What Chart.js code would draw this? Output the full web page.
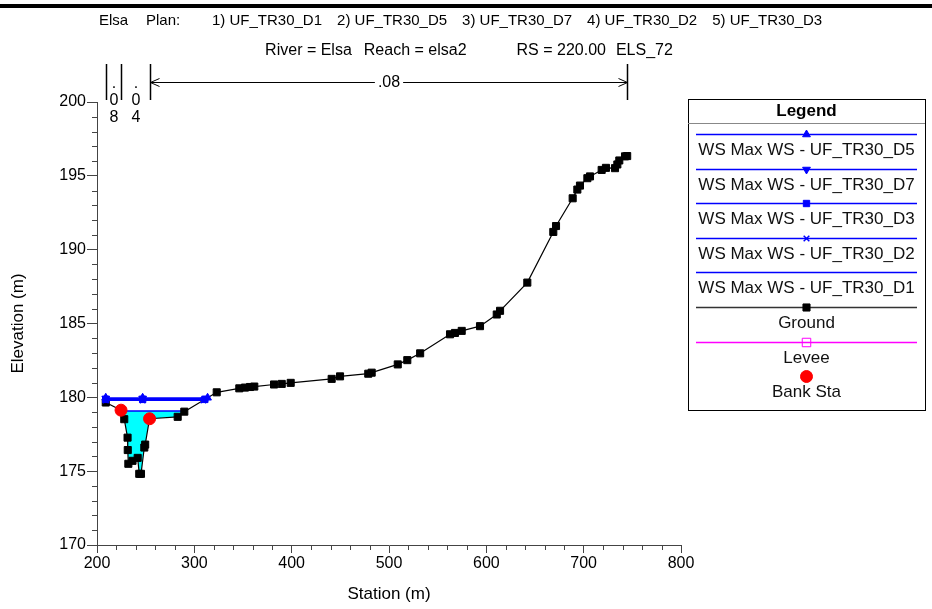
<!DOCTYPE html>
<html>
<head>
<meta charset="utf-8">
<script src="https://cdn.jsdelivr.net/npm/chart.js@4.4.1/dist/chart.umd.min.js"></script>
<style>
  html, body { margin: 0; padding: 0; background: #fff; }
  #wrap { position: relative; width: 932px; height: 609px; }
  #topRule { position: absolute; left: 0; top: 4px; width: 932px; height: 4px; background: #000; }
</style>
</head>
<body>
<div id="wrap">
  <canvas id="xsChart" width="932" height="609"></canvas>
  <div id="topRule"></div>
</div>
<script>
// header text
const riverName = 'Elsa';
const reachName = 'elsa2';
const rsValue = '220.00';
const rsName = 'ELS_72';
const planNames = ['1) UF_TR30_D1', '2) UF_TR30_D5', '3) UF_TR30_D7', '4) UF_TR30_D2', '5) UF_TR30_D3'];

// ground profile (station m, elevation m)
const groundSta = [209.0, 224.7, 228.0, 231.4, 231.6, 232.2, 236.5, 241.8, 243.4, 245.2, 248.6, 249.5, 254.0,
  282.9, 289.7, 323.0, 346.2, 352.0, 357.2, 361.6, 381.9, 389.8, 399.0, 441.1, 449.7, 478.7, 482.2,
  509.0, 518.8, 532.0, 562.7, 567.8, 574.7, 593.5, 610.7, 614.1, 642.1, 668.8, 671.6, 688.7, 693.5,
  696.2, 703.8, 706.5, 718.5, 722.9, 732.2, 734.6, 736.6, 742.5, 744.7];
const groundElev = [179.65, 179.13, 178.52, 177.27, 176.43, 175.50, 175.70, 175.90, 174.82, 174.82, 176.60, 176.80, 178.55,
  178.68, 179.03, 180.34, 180.61, 180.66, 180.70, 180.73, 180.87, 180.91, 180.98, 181.25, 181.42, 181.60, 181.67,
  182.23, 182.52, 182.98, 184.27, 184.36, 184.50, 184.82, 185.61, 185.86, 187.77, 191.20, 191.60, 193.48, 194.07,
  194.34, 194.84, 194.96, 195.40, 195.54, 195.52, 195.77, 196.04, 196.32, 196.34];

// bank stations
const bankSta = [224.7, 254.0];
const bankElev = [179.13, 178.55];

// manning n values between breakpoints
const nSta = [209.0, 224.7, 254.0, 744.7];
const nVal = ['.08', '.04', '.08'];

// max water surface per plan
const wsD5Sta = [209.0, 246.9, 313.6];
const wsD5Elev = [179.97, 179.97, 179.97];
const wsD7Sta = [209.0, 246.9, 312.3];
const wsD7Elev = [179.92, 179.92, 179.92];
const wsD3Sta = [209.0, 246.9, 310.8];
const wsD3Elev = [179.86, 179.86, 179.86];
const wsD2Sta = [209.0, 246.9, 309.3];
const wsD2Elev = [179.80, 179.80, 179.80];
const wsD1Sta = [225.0, 290.8];
const wsD1Elev = [179.07, 179.07];

// legend order
const legendLabels = ['WS Max WS - UF_TR30_D5', 'WS Max WS - UF_TR30_D7', 'WS Max WS - UF_TR30_D3',
  'WS Max WS - UF_TR30_D2', 'WS Max WS - UF_TR30_D1', 'Ground', 'Levee', 'Bank Sta'];

const FONT = '"Liberation Sans", Arial, sans-serif';
const BLUE = '#0000ff';
const pts = (xs, ys) => xs.map((x, i) => ({ x: x, y: ys[i] }));

Chart.defaults.font.family = FONT;
Chart.defaults.color = '#000';

const wsSet = (label, xs, ys, style, rot) => ({
  label: label,
  data: pts(xs, ys),
  borderColor: BLUE,
  backgroundColor: BLUE,
  borderWidth: 1.2,
  pointStyle: style,
  pointRotation: rot || 0,
  pointRadius: style === 'crossRot' ? 4 : 4.5,
  pointBorderWidth: style === 'crossRot' ? 1.5 : 1,
  pointBackgroundColor: BLUE,
  pointBorderColor: BLUE,
  fill: false
});

const headerPlugin = {
  id: 'header',
  afterDraw(chart) {
    const ctx = chart.ctx;
    ctx.save();
    ctx.fillStyle = '#000';
    ctx.textBaseline = 'middle';
    ctx.textAlign = 'left';
    ctx.font = '15px ' + FONT;
    ctx.fillText(riverName, 99, 21);
    ctx.fillText('Plan:', 146, 21);
    let px = 212;
    planNames.forEach(p => {
      ctx.fillText(p, px, 21);
      px += ctx.measureText(p).width + 15;
    });
    ctx.font = '16px ' + FONT;
    const parts = ['River = ' + riverName, 'Reach = ' + reachName, 'RS = ' + rsValue, rsName];
    const gaps = [12, 50, 10];
    let total = gaps.reduce((a, b) => a + b, 0);
    parts.forEach(p => total += ctx.measureText(p).width);
    let sx = 469 - total / 2;
    parts.forEach((p, i) => {
      ctx.fillText(p, sx, 51);
      sx += ctx.measureText(p).width + (gaps[i] || 0);
    });
    ctx.restore();
  }
};

const nValuePlugin = {
  id: 'nValues',
  afterDraw(chart) {
    const ctx = chart.ctx;
    const x = chart.scales.x;
    ctx.save();
    ctx.strokeStyle = '#000';
    ctx.fillStyle = '#000';
    ctx.lineWidth = 1.5;
    const xs = nSta.map(s => Math.round(x.getPixelForValue(s)) + 0.5);
    ctx.beginPath();
    xs.forEach(px => { ctx.moveTo(px, 64); ctx.lineTo(px, 100); });
    ctx.stroke();
    ctx.font = '16px ' + FONT;
    ctx.textAlign = 'center';
    ctx.textBaseline = 'middle';
    ctx.lineWidth = 1;
    for (let i = 0; i < nVal.length; i++) {
      const a = xs[i], b = xs[i + 1], mid = (a + b) / 2;
      const w = ctx.measureText(nVal[i]).width;
      if (b - a < w + 30) {
        nVal[i].split('').forEach((ch, k) => ctx.fillText(ch, mid, 84 + k * 17));
      } else {
        ctx.fillText(nVal[i], mid, 83);
        const y = 82.5;
        ctx.beginPath();
        ctx.moveTo(a, y); ctx.lineTo(mid - w / 2 - 3, y);
        ctx.moveTo(mid + w / 2 + 3, y); ctx.lineTo(b, y);
        ctx.moveTo(a + 9, y - 4); ctx.lineTo(a, y); ctx.lineTo(a + 9, y + 4);
        ctx.moveTo(b - 9, y - 4); ctx.lineTo(b, y); ctx.lineTo(b - 9, y + 4);
        ctx.stroke();
      }
    }
    ctx.restore();
  }
};

const minorTicks = {
  id: 'minorTicks',
  afterDraw(chart) {
    const { ctx, chartArea } = chart;
    const x = chart.scales.x, y = chart.scales.y;
    ctx.save();
    ctx.strokeStyle = '#444';
    ctx.lineWidth = 1;
    ctx.beginPath();
    for (let v = x.min; v <= x.max; v += 20) {
      if (v % 100 === 0) continue;
      const px = Math.round(x.getPixelForValue(v)) + 0.5;
      ctx.moveTo(px, chartArea.bottom);
      ctx.lineTo(px, chartArea.bottom + 5);
    }
    for (let v = y.min; v <= y.max; v += 1) {
      if (v % 5 === 0) continue;
      const py = Math.round(y.getPixelForValue(v)) + 0.5;
      ctx.moveTo(chartArea.left - 5, py);
      ctx.lineTo(chartArea.left, py);
    }
    ctx.stroke();
    ctx.restore();
  }
};

const boxLegend = {
  id: 'boxLegend',
  afterDraw(chart) {
    const ctx = chart.ctx;
    const left = 688, right = 925, top = 99, bottom = 410;
    const cx = (left + right) / 2;
    ctx.save();
    ctx.strokeStyle = '#000';
    ctx.lineWidth = 1;
    ctx.strokeRect(left + 0.5, top + 0.5, right - left, bottom - top);
    ctx.strokeStyle = '#888';
    ctx.beginPath();
    ctx.moveTo(left, 123.5); ctx.lineTo(right, 123.5);
    ctx.stroke();
    ctx.fillStyle = '#000';
    ctx.textAlign = 'center';
    ctx.textBaseline = 'middle';
    ctx.font = 'bold 17px ' + FONT;
    ctx.fillText('Legend', cx, 111);
    legendLabels.forEach((lab, i) => {
      const ds = chart.data.datasets.find(d => d.label === lab);
      const ly = Math.round(134 + i * 34.6) + 0.5;
      if (ds.showLine !== false) {
        ctx.strokeStyle = ds.legendLineColor || ds.borderColor;
        ctx.lineWidth = 1.5;
        ctx.beginPath();
        ctx.moveTo(left + 8, ly); ctx.lineTo(right - 8, ly);
        ctx.stroke();
      }
      if (ds.pointRadius > 0) {
        ctx.fillStyle = ds.pointBackgroundColor;
        ctx.strokeStyle = ds.pointBorderColor;
        ctx.lineWidth = ds.pointBorderWidth || 1;
        Chart.helpers.drawPoint(ctx, {
          pointStyle: ds.pointStyle,
          radius: ds.pointRadius,
          rotation: ds.pointRotation || 0,
          borderWidth: ds.pointBorderWidth || 1
        }, cx, ly);
      }
      ctx.fillStyle = '#111';
      ctx.font = '17px ' + FONT;
      ctx.fillText(lab, cx, ly + 16);
    });
    ctx.restore();
  }
};

new Chart(document.getElementById('xsChart'), {
  type: 'line',
  data: {
    datasets: [
      {
        label: 'Bank Sta',
        data: pts(bankSta, bankElev),
        showLine: false,
        pointStyle: 'circle',
        pointRadius: 6,
        pointBackgroundColor: '#ff0000',
        pointBorderColor: '#ff0000',
        borderColor: '#ff0000',
        backgroundColor: '#ff0000'
      },
      wsSet('WS Max WS - UF_TR30_D5', wsD5Sta, wsD5Elev, 'triangle'),
      wsSet('WS Max WS - UF_TR30_D7', wsD7Sta, wsD7Elev, 'triangle', 180),
      wsSet('WS Max WS - UF_TR30_D3', wsD3Sta, wsD3Elev, 'rect'),
      wsSet('WS Max WS - UF_TR30_D2', wsD2Sta, wsD2Elev, 'crossRot'),
      {
        label: 'Ground',
        data: pts(groundSta, groundElev),
        borderColor: '#000',
        legendLineColor: '#333',
        backgroundColor: '#000',
        borderWidth: 1.2,
        pointStyle: 'rect',
        pointRadius: 5,
        pointBackgroundColor: '#000',
        pointBorderColor: '#000',
        pointBorderWidth: 1,
        fill: false
      },
      {
        label: 'Levee',
        data: [],
        borderColor: '#ff00ff',
        backgroundColor: '#ff00ff',
        pointStyle: 'rect',
        pointRadius: 6,
        pointBackgroundColor: 'rgba(0,0,0,0)',
        pointBorderColor: '#ff00ff',
        pointBorderWidth: 1
      },
      {
        label: 'WS Max WS - UF_TR30_D1',
        data: pts(wsD1Sta, wsD1Elev),
        borderColor: BLUE,
        backgroundColor: '#00ffff',
        borderWidth: 1.5,
        pointRadius: 0,
        pointBackgroundColor: BLUE,
        pointBorderColor: BLUE,
        fill: { target: 5, above: '#00ffff', below: 'rgba(0,0,0,0)' }
      }
    ]
  },
  options: {
    responsive: false,
    animation: false,
    layout: { padding: { top: 102, right: 251, left: 0, bottom: 0 } },
    elements: { line: { tension: 0 } },
    plugins: {
      legend: { display: false },
      tooltip: { enabled: false }
    },
    scales: {
      x: {
        type: 'linear',
        min: 200,
        max: 800,
        ticks: { stepSize: 100, font: { size: 16 }, padding: 1, maxRotation: 0, autoSkip: false },
        grid: { drawOnChartArea: false, tickLength: 8, color: '#444' },
        border: { color: '#444', width: 1 },
        title: { display: true, text: 'Station (m)', font: { size: 17 }, padding: { top: 0, bottom: 4 } },
        afterFit: function(s) { s.height = 64; }
      },
      y: {
        type: 'linear',
        min: 170,
        max: 200,
        ticks: { stepSize: 5, font: { size: 16 }, padding: 1 },
        grid: { drawOnChartArea: false, tickLength: 10, color: '#444' },
        border: { color: '#444', width: 1 },
        title: { display: true, text: 'Elevation (m)', font: { size: 17 }, padding: { top: 8, bottom: 0 } },
        afterFit: function(s) { s.width = 97; }
      }
    }
  },
  plugins: [headerPlugin, nValuePlugin, minorTicks, boxLegend]
});
</script>
</body>
</html>
